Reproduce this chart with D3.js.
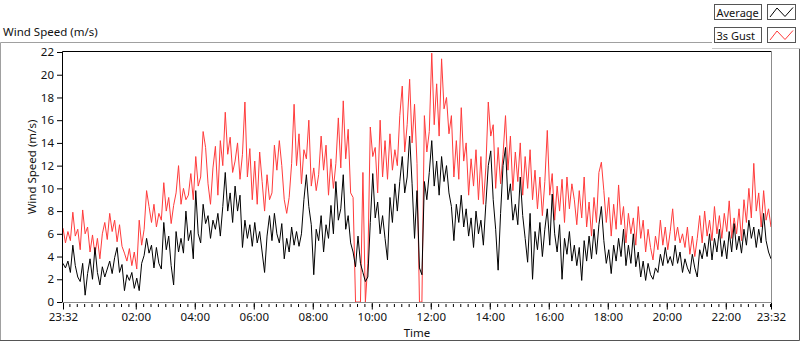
<!DOCTYPE html>
<head>
<script src="https://d3js.org/d3.v7.min.js"></script>
<style>
    body { margin: 0; background: #fff; }
    text { font-family: "Noto Sans", sans-serif; font-size: 11.5px; fill: #111; }
    .legend text { font-size: 11px; }
</style>
</head>
<svg width="800" height="342"></svg>
<script>
    // 5 minute samples from 23:32 to 23:32 next day
    var average = [
        3.4,3.0,3.6,2.6,5.0,3.2,2.2,1.8,3.4,0.6,
        2.5,3.8,2.0,4.8,2.6,1.5,3.1,2.2,2.9,3.6,
        2.5,3.9,4.8,2.6,3.3,1.0,2.4,1.9,2.6,1.2,
        2.1,1.0,3.4,4.1,5.6,4.3,5.0,3.0,4.8,3.4,
        2.9,7.0,4.6,5.8,3.2,1.5,6.2,4.4,5.6,4.3,
        8.0,5.4,6.3,3.8,9.8,6.0,5.2,8.6,6.9,7.6,
        5.6,7.2,6.4,7.8,5.8,8.4,11.4,8.0,9.6,7.0,
        10.2,8.0,9.4,4.8,7.2,5.6,6.8,4.9,7.0,5.2,
        6.2,4.4,2.6,5.8,7.6,5.4,7.8,6.0,5.2,6.9,
        3.8,5.6,4.4,6.6,5.0,6.2,4.9,6.0,9.0,11.2,
        8.4,6.8,2.4,6.4,5.4,7.6,4.4,6.8,5.6,8.5,
        6.0,10.6,7.2,8.2,11.2,6.4,7.6,5.2,4.4,3.1,
        5.8,3.4,2.6,1.8,2.2,7.0,11.3,7.4,8.8,6.0,
        7.6,5.6,3.7,9.2,7.0,10.4,8.0,10.6,12.8,9.6,
        11.0,14.6,10.4,5.6,9.8,3.0,2.4,10.6,9.0,11.4,
        14.2,10.2,12.4,9.4,12.8,10.6,12.0,9.6,8.4,5.4,
        8.6,7.0,9.4,6.6,8.2,5.8,7.4,4.8,8.0,6.0,
        7.2,5.0,8.6,12.0,13.3,9.0,6.4,2.8,7.8,12.0,
        13.6,9.0,10.4,7.2,8.6,6.8,11.0,7.6,5.6,3.5,
        7.8,2.0,6.2,4.6,7.0,4.0,6.4,8.2,5.0,9.5,
        6.0,4.4,6.8,2.0,5.6,4.2,6.2,3.6,5.0,3.2,
        4.8,1.9,5.4,3.6,5.8,3.8,6.4,4.2,6.8,8.4,
        5.4,3.4,4.6,2.5,5.0,3.6,5.6,4.0,6.4,3.2,
        5.0,3.4,6.0,3.1,4.4,2.2,3.6,1.9,3.4,2.4,
        2.0,3.0,2.6,4.2,3.2,4.8,3.4,4.0,3.2,5.0,
        3.4,4.4,2.6,3.8,3.0,2.5,4.2,3.0,2.2,4.6,
        3.8,5.2,4.0,6.0,3.7,5.6,4.4,6.4,4.0,5.4,
        3.8,6.2,4.4,6.9,4.6,5.8,4.3,6.4,5.0,7.2,
        5.6,6.6,4.8,6.4,5.2,7.8,5.4,4.4,3.8
    ];
    var gust = [
        6.5,5.2,6.2,5.4,7.9,5.8,6.4,4.6,8.1,6.0,
        6.6,4.4,5.9,4.2,5.6,3.8,6.0,7.0,5.5,7.8,
        6.2,7.2,5.3,6.8,4.9,4.3,3.6,4.7,3.2,4.4,
        2.9,7.2,5.0,6.4,9.8,8.4,7.0,8.6,6.6,7.8,
        7.2,10.5,8.0,9.2,6.9,8.5,9.6,12.0,8.6,10.0,
        9.0,9.4,11.3,9.0,12.8,10.2,11.0,15.0,13.6,10.4,
        8.6,11.8,13.7,9.4,14.2,12.0,16.7,13.0,14.5,11.4,
        12.4,14.0,10.8,13.0,17.6,11.0,13.5,9.0,12.4,8.6,
        13.2,10.6,8.0,11.2,9.0,9.6,13.8,11.6,14.2,12.0,
        9.0,7.8,9.2,12.2,17.4,12.0,14.8,10.4,13.4,12.6,
        16.0,10.2,11.8,9.8,11.2,14.6,11.6,13.8,9.4,12.6,
        10.0,12.2,16.2,11.8,17.7,12.6,15.2,9.6,9.2,0,
        0,0,11.4,0,3.4,15.4,12.8,13.6,9.6,16.0,
        11.0,14.2,10.8,14.8,11.6,13.4,12.0,16.4,19.0,13.2,
        15.6,19.6,14.0,17.4,12.2,0,0,16.4,13.2,15.0,
        21.9,15.6,19.2,14.6,21.4,17.0,18.0,14.8,16.4,11.0,
        14.2,10.8,17.1,12.4,14.0,9.4,12.6,10.2,13.4,9.0,
        12.8,8.6,11.8,17.6,14.6,15.6,10.0,13.6,10.4,13.0,
        16.4,11.6,14.6,9.8,13.2,10.6,14.0,9.4,12.8,10.0,
        13.4,9.0,11.6,8.2,11.0,7.6,10.6,15.1,9.4,11.3,
        7.2,10.2,8.0,10.8,7.0,11.0,8.2,10.4,9.0,6.8,
        9.8,7.4,11.0,6.6,8.8,5.8,9.2,7.0,11.4,12.3,
        9.8,7.0,9.2,5.8,8.6,6.4,10.3,6.8,8.4,5.2,
        7.8,6.0,7.4,5.0,8.4,5.6,7.2,4.4,6.4,4.8,
        3.7,5.8,4.6,7.2,5.0,6.6,4.6,6.2,8.2,5.4,
        6.6,5.2,6.0,4.8,6.6,4.2,5.8,4.0,5.6,7.6,
        5.2,8.0,5.8,7.2,5.4,8.4,6.0,7.6,5.6,7.8,
        6.2,8.9,5.6,7.4,6.0,8.2,5.4,9.0,7.0,10.0,
        7.4,12.2,8.0,9.6,6.6,9.8,7.2,8.2,6.6
    ];
    var yTickValues = [0, 2, 4, 6, 8, 10, 12, 14, 16, 18, 20, 22];
    var xTickLabels = ["23:32", "02:00", "04:00", "06:00", "08:00", "10:00", "12:00",
                       "14:00", "16:00", "18:00", "20:00", "22:00", "23:32"];
    var seriesNames = ["Average", "3s Gust"];
    var seriesColors = ["#000000", "#ff3b3b"];

    var startTime = new Date(2020, 0, 1, 23, 32);
    var endTime = d3.timeDay.offset(startTime, 1);
    var stepMinutes = 5;

    var svg = d3.select("svg");

    var x = d3.scaleTime()
        .domain([startTime, endTime])
        .range([63, 771]);

    var y = d3.scaleLinear()
        .domain([0, 22])
        .range([302, 52]);

    // outer panel frame
    svg.append("path").attr("d", "M0.5,341V42.5H712").attr("fill", "none").attr("stroke", "#a0a0a0");
    svg.append("path").attr("d", "M0,340.5H799.5V49").attr("fill", "none").attr("stroke", "#555");
    svg.append("path").attr("d", "M712,48.5H800").attr("fill", "none").attr("stroke", "#c8c8c8");

    svg.append("text")
        .attr("x", 3)
        .attr("y", 36)
        .text("Wind Speed (m/s)");

    // legend
    var legend = svg.append("g").attr("class", "legend");
    seriesNames.forEach(function(name, i) {
        var top = i == 0 ? 4.5 : 27.5;
        var g = legend.append("g").attr("transform", "translate(0," + top + ")");
        g.append("rect").attr("x", 714.5).attr("y", 0).attr("width", 47).attr("height", 15)
            .attr("fill", "#fff").attr("stroke", "#555");
        g.append("text").attr("x", 716.5).attr("y", 12).text(name);
        g.append("rect").attr("x", 767.5).attr("y", 0).attr("width", 28).attr("height", 15)
            .attr("fill", "#fff").attr("stroke", "#555");
        g.append("path").attr("d", "M770,12.5L777,3.5L785,12L793,3")
            .attr("fill", "none").attr("stroke", seriesColors[i]);
    });

    // y axis
    svg.append("g")
        .attr("transform", "translate(62,0)")
        .call(d3.axisLeft(y).tickValues(yTickValues).tickSize(5).tickPadding(3))
        .call(function(g) { g.select(".domain").remove(); })
        .attr("font-family", null).attr("font-size", null);

    svg.append("text")
        .attr("transform", "translate(31,167) rotate(-90)")
        .attr("text-anchor", "middle")
        .attr("dominant-baseline", "central")
        .text("Wind Speed (m/s)");

    // x axis minor ticks every 15 minutes
    svg.append("g")
        .attr("transform", "translate(0,304)")
        .call(d3.axisBottom(x).tickValues(d3.timeMinute.every(15).range(startTime, endTime)).tickSize(3).tickFormat(""))
        .call(function(g) { g.select(".domain").remove(); });

    // major ticks: both ends plus every even hour from 02:00 to 22:00
    var majorTimes = [startTime]
        .concat(d3.timeHour.every(2).range(d3.timeMinute.offset(startTime, 120), endTime))
        .concat([endTime]);

    svg.append("g")
        .attr("transform", "translate(0,302.5)")
        .call(d3.axisBottom(x).tickValues(majorTimes).tickSize(7).tickPadding(3)
            .tickFormat(function(d, i) { return xTickLabels[i]; }))
        .call(function(g) { g.select(".domain").remove(); })
        .attr("font-family", null).attr("font-size", null);

    svg.append("text")
        .attr("x", 417)
        .attr("y", 337)
        .attr("text-anchor", "middle")
        .text("Time");

    // plot area
    svg.append("defs").append("clipPath").attr("id", "plotClip")
        .append("rect").attr("x", 63).attr("y", 52).attr("width", 708).attr("height", 251);

    var line = d3.line()
        .x(function(d, i) { return x(d3.timeMinute.offset(startTime, i * stepMinutes)); })
        .y(function(d) { return y(d); });

    var plot = svg.append("g").attr("clip-path", "url(#plotClip)");
    plot.append("path").datum(gust)
        .attr("fill", "none").attr("stroke", seriesColors[1]).attr("stroke-width", 1)
        .attr("d", line);
    plot.append("path").datum(average)
        .attr("fill", "none").attr("stroke", seriesColors[0]).attr("stroke-width", 1)
        .attr("d", line);

    // plot border: dark top/left, light bottom/right
    svg.append("path").attr("d", "M62.5,303V51.5H772").attr("fill", "none").attr("stroke", "#000");
    svg.append("path").attr("d", "M62,302.5H771.5V51").attr("fill", "none").attr("stroke", "#8c8c8c");
</script>
